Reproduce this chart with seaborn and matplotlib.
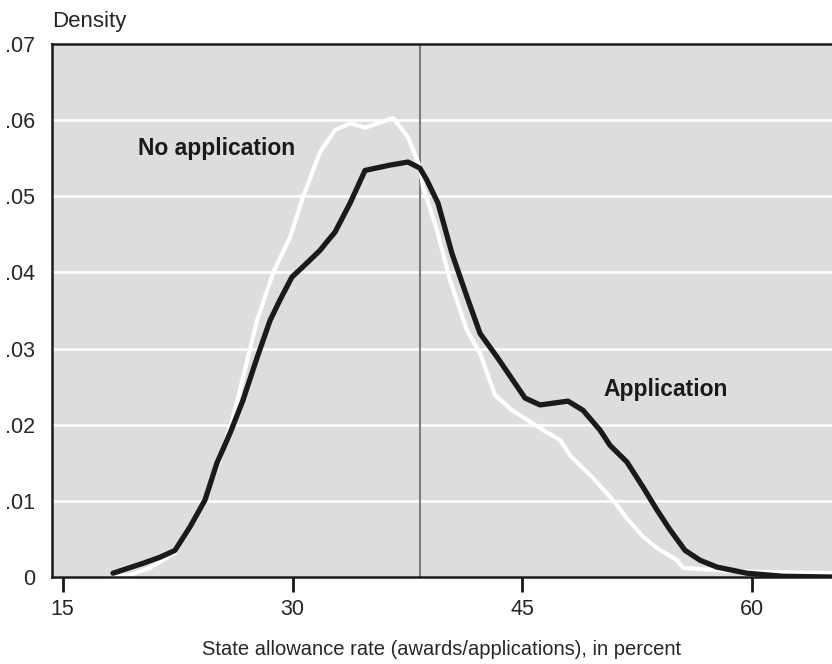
import numpy as np
import pandas as pd
import seaborn as sns
import matplotlib.pyplot as plt

# values
app_x = [18.28, 20.24, 21.35, 22.33, 23.31, 24.28, 25.07, 25.92, 26.76, 27.68,
         28.53, 29.18, 29.96, 30.81, 31.79, 32.31, 32.77, 33.75, 34.73, 36.36,
         37.53, 38.31, 38.77, 39.49, 40.40, 41.38, 42.23, 43.34, 45.17, 46.15,
         47.97, 48.95, 50.06, 50.71, 51.82, 52.87, 53.78, 54.63, 55.61, 56.59,
         57.70, 59.65, 62.00, 65.20]
app_y = [0.0005, 0.0018, 0.0026, 0.0035, 0.0066, 0.0101, 0.0150, 0.0189, 0.0232, 0.0288,
         0.0337, 0.0364, 0.0394, 0.0410, 0.0429, 0.0442, 0.0453, 0.0491, 0.0534, 0.0541,
         0.0545, 0.0537, 0.0521, 0.0491, 0.0425, 0.0368, 0.0320, 0.0289, 0.0235, 0.0226,
         0.0231, 0.0219, 0.0193, 0.0173, 0.0151, 0.0118, 0.0088, 0.0062, 0.0035, 0.0022,
         0.0013, 0.0005, 0.0001, 0.0000]

noapp_x = [18.28, 19.39, 20.70, 22.33, 23.31, 24.28, 25.26, 26.24, 27.68, 28.72,
           29.83, 30.68, 31.79, 32.77, 33.75, 34.73, 36.55, 37.53, 38.31, 38.51,
           39.42, 40.27, 41.38, 42.23, 43.21, 44.32, 46.34, 47.45, 48.10, 49.60,
           50.91, 51.82, 52.87, 53.78, 55.09, 55.48, 57.70, 59.85, 65.20]
noapp_y = [0.0000, 0.0003, 0.0012, 0.0032, 0.0064, 0.0104, 0.0154, 0.0219, 0.0337, 0.0399,
           0.0446, 0.0499, 0.0558, 0.0587, 0.0596, 0.0590, 0.0603, 0.0578, 0.0538, 0.0512,
           0.0456, 0.0390, 0.0324, 0.0294, 0.0239, 0.0219, 0.0193, 0.0180, 0.0160, 0.0130,
           0.0101, 0.0077, 0.0053, 0.0038, 0.0022, 0.0012, 0.0009, 0.0007, 0.0005]

x_ticks = [15, 30, 45, 60]
y_ticks = [0, 0.01, 0.02, 0.03, 0.04, 0.05, 0.06, 0.07]
y_labels = ["0", ".01", ".02", ".03", ".04", ".05", ".06", ".07"]
cutoff = 38.3

sns.set_style("darkgrid", {"axes.facecolor": "#dcdddf", "grid.color": "white"})
plt.rcParams["font.family"] = ["Liberation Sans", "DejaVu Sans"]

fig = plt.figure(figsize=(8.32, 6.64), dpi=100)
ax = fig.add_axes([0.0625, 0.131, 0.9375, 0.8027])

ax.axvline(cutoff, color="#7f7f7f", lw=1.5, zorder=1)
sns.lineplot(x=noapp_x, y=noapp_y, color="white", lw=3.0, ax=ax, zorder=2)
sns.lineplot(x=app_x, y=app_y, color="#1a1a1a", lw=3.8, ax=ax, zorder=3)

ax.set_xlim(14.3, 65.2)
ax.set_ylim(0, 0.07)
ax.set_xticks(x_ticks)
ax.set_xticklabels([str(t) for t in x_ticks], fontsize=15.5)
ax.set_yticks(y_ticks)
ax.set_yticklabels(y_labels, fontsize=15.5)
ax.grid(axis="x", visible=False)
ax.grid(axis="y", lw=1.8)

ax.tick_params(axis="x", length=11, width=2, color="#1a1a1a", pad=5, bottom=True)
ax.tick_params(axis="y", length=0, pad=12)

for side in ["left", "bottom", "top"]:
    ax.spines[side].set_visible(True)
    ax.spines[side].set_color("#1a1a1a")
    ax.spines[side].set_linewidth(1.8)
ax.spines["right"].set_visible(False)

ax.text(19.9, 0.0563, "No application", fontsize=16.5, fontweight="bold",
        color="#1a1a1a", va="center", ha="left")
ax.text(50.3, 0.0246, "Application", fontsize=16.5, fontweight="bold",
        color="#1a1a1a", va="center", ha="left")

ax.set_xlabel("State allowance rate (awards/applications), in percent",
              fontsize=14.5, labelpad=14)
ax.set_ylabel("")
ax.text(0, 1.022, "Density", transform=ax.transAxes, fontsize=16, ha="left", va="bottom")

fig.savefig("out.png", dpi=100)
